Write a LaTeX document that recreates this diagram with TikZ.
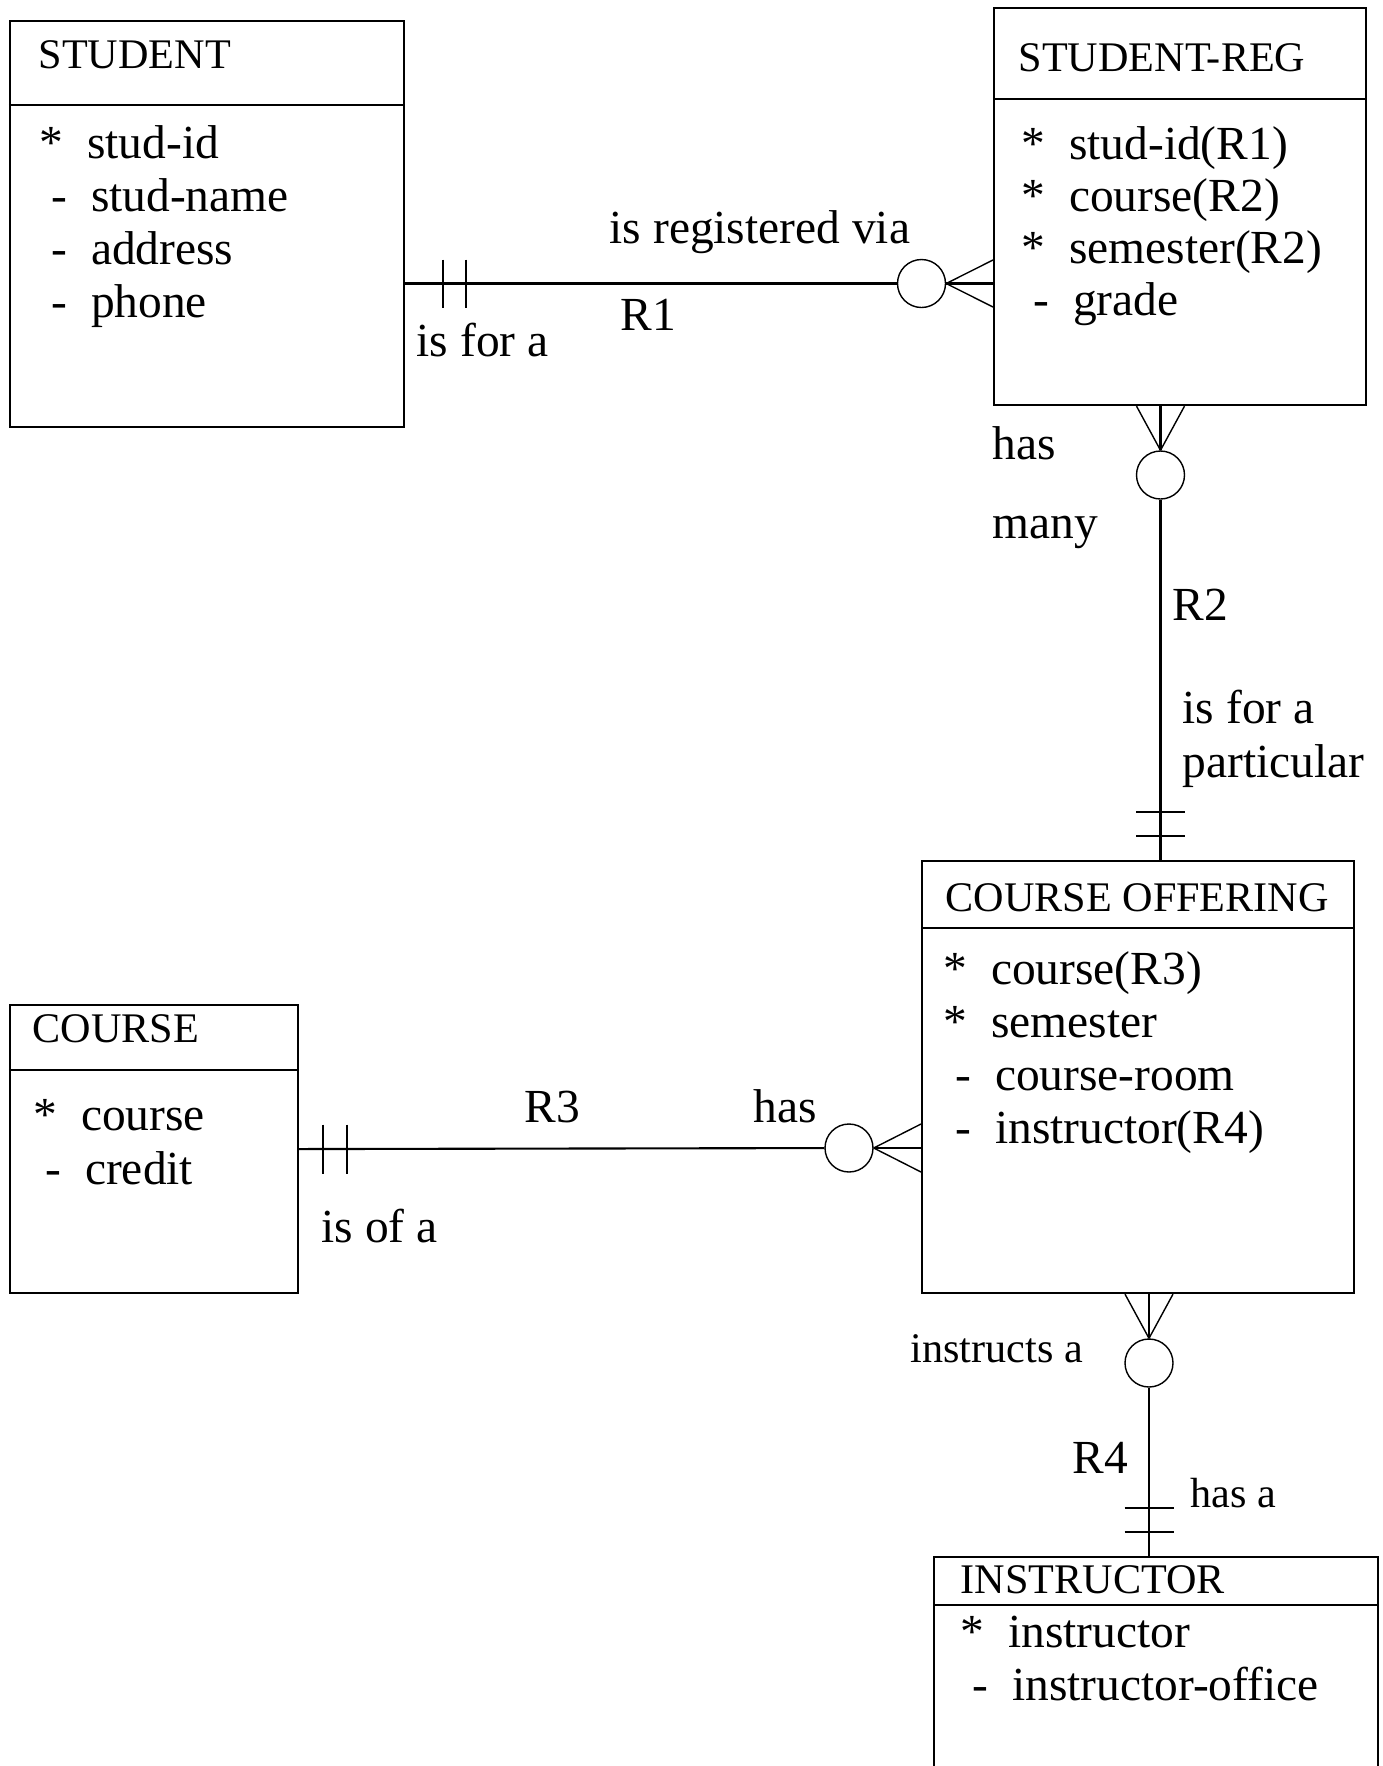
\documentclass[tikz,border=0pt]{standalone}
\usepackage{fontspec}
\setmainfont{Liberation Serif}

\begin{document}
\begin{tikzpicture}[
    entity/.style={draw, rectangle, line width=0.6pt, anchor=north west, inner sep=0pt},
    title/.style={anchor=base west, inner sep=0pt, font=\fontsize{12}{14}\selectfont},
    attr/.style={anchor=base west, inner sep=0pt, font=\fontsize{13.5}{16}\selectfont},
    rel/.style={anchor=base west, inner sep=0pt, font=\fontsize{13.5}{16}\selectfont},
    small rel/.style={rel, font=\fontsize{12}{14}\selectfont},
    optional/.style={circle, draw, line width=0.4pt, minimum size=0.48cm, inner sep=0pt},
    link/.style={line width=0.6pt},
    leg/.style={line width=0.4pt},
    bar/.style={line width=0.5pt}
  ]

  \useasboundingbox (0,0) rectangle (13.83,-17.66);
  \clip (0,0) rectangle (13.83,-17.66);

  % Student
  \node[entity, minimum width=3.94cm, minimum height=4.06cm] (student) at (0.09,-0.20) {};
  \draw[link] ([yshift=-0.85cm]student.north west) -- ([yshift=-0.85cm]student.north east);
  \node[title] (student-t) at (0.38,-0.68) {STUDENT};
  \foreach \txt [count=\i] in {{*~~stud-id}, {~-~~stud-name}, {~-~~address}, {~-~~phone}}
    \node[attr] (student-a\i) at (0.39,{-1.58-0.53*(\i-1)}) {\txt};

  % Student-Reg
  \node[entity, minimum width=3.72cm, minimum height=3.97cm] (reg) at (9.93,-0.07) {};
  \draw[link] ([yshift=-0.92cm]reg.north west) -- ([yshift=-0.92cm]reg.north east);
  \node[title] (reg-t) at (10.18,-0.71) {STUDENT-REG};
  \foreach \txt [count=\i] in {{*~~stud-id(R1)}, {*~~course(R2)}, {*~~semester(R2)}, {~-~~grade}}
    \node[attr] (reg-a\i) at (10.21,{-1.59-0.52*(\i-1)}) {\txt};

  % Course Offering
  \node[entity, minimum width=4.32cm, minimum height=4.32cm] (offer) at (9.21,-8.60) {};
  \draw[link] ([yshift=-0.68cm]offer.north west) -- ([yshift=-0.68cm]offer.north east);
  \node[title] (offer-t) at (9.45,-9.11) {COURSE OFFERING};
  \foreach \txt [count=\i] in {{*~~course(R3)}, {*~~semester}, {~-~~course-room}, {~-~~instructor(R4)}}
    \node[attr] (offer-a\i) at (9.43,{-9.84-0.533*(\i-1)}) {\txt};

  % Course
  \node[entity, minimum width=2.88cm, minimum height=2.88cm] (course) at (0.09,-10.04) {};
  \draw[link] ([yshift=-0.66cm]course.north west) -- ([yshift=-0.66cm]course.north east);
  \node[title] (course-t) at (0.32,-10.42) {COURSE};
  \foreach \txt [count=\i] in {{*~~course}, {~-~~credit}}
    \node[attr] (course-a\i) at (0.33,{-11.30-0.54*(\i-1)}) {\txt};

  % Instructor
  \node[entity, minimum width=4.44cm, minimum height=2.50cm] (instr) at (9.33,-15.56) {};
  \draw[link] ([yshift=-0.49cm]instr.north west) -- ([yshift=-0.49cm]instr.north east);
  \node[title] (instr-t) at (9.60,-15.93) {INSTRUCTOR};
  \foreach \txt [count=\i] in {{*~~instructor}, {~-~~instructor-office}}
    \node[attr] (instr-a\i) at (9.60,{-16.47-0.53*(\i-1)}) {\txt};

  % R1
  \node[optional] (c1) at (9.215,-2.835) {};
  \coordinate (r1-s) at (student.east |- c1);
  \coordinate (r1-e) at (reg.west |- c1);
  \draw[link] (r1-s) -- (c1);
  \draw[link] (c1.east) -- (r1-e);
  \foreach \d in {-0.235,0.235}
    \draw[leg] (c1.east) -- ([yshift=\d cm]r1-e);
  \foreach \x in {0.38,0.61}
    \draw[bar] ([xshift=\x cm, yshift=0.24cm]r1-s) -- ([xshift=\x cm, yshift=-0.24cm]r1-s);
  \node[rel] (r1-top) at (6.09,-2.43) {is registered via};
  \node[rel] (r1-name) at (6.20,-3.30) {R1};
  \node[rel] (r1-bot) at (4.16,-3.56) {is for a};

  % R2
  \node[optional] (c2) at (11.605,-4.75) {};
  \coordinate (r2-s) at (c2 |- reg.south);
  \coordinate (r2-e) at (c2 |- offer.north);
  \draw[link] (c2.north) -- (r2-s);
  \foreach \d in {-0.24,0.24}
    \draw[leg] (c2.north) -- ([xshift=\d cm]r2-s);
  \draw[link] (c2.south) -- (r2-e);
  \foreach \y in {0.24,0.48}
    \draw[bar] ([xshift=-0.245cm, yshift=\y cm]r2-e) -- ([xshift=0.245cm, yshift=\y cm]r2-e);
  \node[rel] (r2-has) at (9.92,-4.59) {has};
  \node[rel] (r2-many) at (9.92,-5.38) {many};
  \node[rel] (r2-name) at (11.72,-6.20) {R2};
  \node[rel] (r2-for) at (11.82,-7.23) {is for a};
  \node[rel] (r2-part) at (11.82,-7.77) {particular};

  % R3
  \node[optional] (c3) at (8.49,-11.48) {};
  \coordinate (r3-e) at (offer.west |- c3);
  \draw[link] (course.east) -- (c3);
  \draw[link] (c3.east) -- (r3-e);
  \foreach \d in {-0.24,0.24}
    \draw[leg] (c3.east) -- ([yshift=\d cm]r3-e);
  \foreach \x in {0.24,0.48}
    \draw[bar] ([xshift=\x cm, yshift=0.245cm]course.east) -- ([xshift=\x cm, yshift=-0.245cm]course.east);
  \node[rel] (r3-name) at (5.24,-11.22) {R3};
  \node[rel] (r3-has) at (7.53,-11.22) {has};
  \node[rel] (r3-of) at (3.21,-12.42) {is of a};

  % R4
  \node[optional] (c4) at (11.49,-13.63) {};
  \coordinate (r4-s) at (c4 |- offer.south);
  \coordinate (r4-e) at (c4 |- instr.north);
  \draw[link] (c4.north) -- (r4-s);
  \foreach \d in {-0.24,0.24}
    \draw[leg] (c4.north) -- ([xshift=\d cm]r4-s);
  \draw[link] (c4.south) -- (r4-e);
  \foreach \y in {0.24,0.48}
    \draw[bar] ([xshift=-0.245cm, yshift=\y cm]r4-e) -- ([xshift=0.245cm, yshift=\y cm]r4-e);
  \node[small rel] (r4-inst) at (9.10,-13.62) {instructs a};
  \node[rel] (r4-name) at (10.72,-14.73) {R4};
  \node[small rel] (r4-has) at (11.90,-15.07) {has a};

\end{tikzpicture}
\end{document}
